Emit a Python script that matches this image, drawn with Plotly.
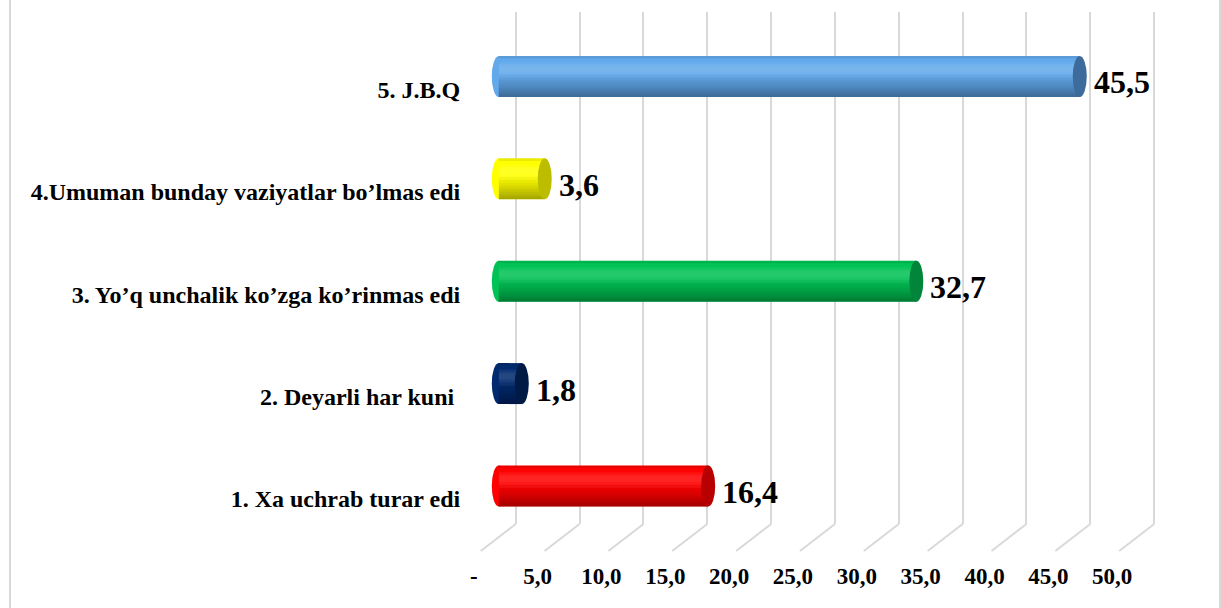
import plotly.graph_objects as go

# ---- data ----
categories = [
    "1. Xa uchrab turar edi",
    "2. Deyarli har kuni ",
    "3. Yo’q unchalik ko’zga ko’rinmas edi",
    "4.Umuman bunday vaziyatlar bo’lmas edi",
    "5. J.B.Q",
]
values = [16.4, 1.8, 32.7, 3.6, 45.5]
tick_values = [0, 5, 10, 15, 20, 25, 30, 35, 40, 45, 50]
tick_labels = ["-", "5,0", "10,0", "15,0", "20,0", "25,0", "30,0", "35,0", "40,0", "45,0", "50,0"]

# ---- style ----
base_colors = ["#FF0000", "#002A6E", "#00C255", "#FFFF00", "#62A9EC"]
cap_colors = ["#B80000", "#001A46", "#00853A", "#BDBD00", "#3D6B9B"]
W, H = 1221, 608
FONT = "Liberation Serif"
GRID = "#D9D9D9"

def px_x(p):
    return p / W

def px_y(p):
    return 1 - p / H

ypos = list(range(len(categories)))
labels_val = [f"{v:.1f}".replace(".", ",") for v in values]

fig = go.Figure()

# empty trace to build the back-wall grid subplot
fig.add_trace(go.Scatter(x=[], y=[], xaxis="x", yaxis="y", showlegend=False, hoverinfo="skip"))

# main cylinders
fig.add_trace(go.Bar(
    x=values, y=ypos, orientation="h", width=0.4,
    marker=dict(color=base_colors, line=dict(width=0)),
    xaxis="x2", yaxis="y2", hoverinfo="skip", showlegend=False,
))
# shading bands to mimic the cylinder look (smooth gradient by stacking)
bands = []
for wd in [0.22, 0.19, 0.16, 0.135, 0.11, 0.09, 0.07, 0.05, 0.035, 0.02]:
    bands.append((-0.2, wd, "rgba(0,0,0,0.04)"))
for off, wd in [(-0.02, 0.16), (0.01, 0.11), (0.04, 0.06)]:
    bands.append((off, wd, "rgba(255,255,255,0.05)"))
bands.append((0.175, 0.025, "rgba(0,0,0,0.08)"))
for off, wd, col in bands:
    fig.add_trace(go.Bar(
        x=values, y=ypos, orientation="h", width=wd, offset=off,
        marker=dict(color=col, line=dict(width=0)),
        xaxis="x2", yaxis="y2", hoverinfo="skip", showlegend=False,
    ))

shapes = []
# floor lines (perspective) of the grid
for v in tick_values:
    shapes.append(dict(
        type="line", xref="x", yref="paper", xsizemode="pixel", xanchor=v,
        x0=0, x1=-35, y0=px_y(524), y1=px_y(551),
        line=dict(color=GRID, width=2), layer="below",
    ))
# cylinder caps
for i, v in enumerate(values):
    shapes.append(dict(
        type="circle", xref="x2", yref="y2", xsizemode="pixel", xanchor=0,
        x0=-7, x1=7, y0=i - 0.2, y1=i + 0.2,
        fillcolor=base_colors[i], line=dict(width=0), layer="between",
    ))
    shapes.append(dict(
        type="circle", xref="x2", yref="y2", xsizemode="pixel", xanchor=v,
        x0=-7, x1=7, y0=i - 0.2, y1=i + 0.2,
        fillcolor=cap_colors[i], line=dict(width=0), layer="above",
    ))
# frame
shapes.append(dict(
    type="rect", xref="paper", yref="paper", x0=px_x(7), x1=px_x(1220),
    y0=-0.05, y1=1.05, line=dict(color=GRID, width=2), fillcolor="rgba(0,0,0,0)",
))

annotations = []
for i, v in enumerate(values):
    annotations.append(dict(
        x=v, y=i, xref="x2", yref="y2", text=labels_val[i], showarrow=False,
        xanchor="left", yanchor="middle", xshift=12, yshift=-6,
        font=dict(family=FONT, size=32, color="black", weight="bold"),
    ))

fig.update_layout(
    width=W, height=H,
    margin=dict(l=0, r=0, t=0, b=0),
    paper_bgcolor="white", plot_bgcolor="rgba(0,0,0,0)",
    barmode="overlay", showlegend=False,
    shapes=shapes, annotations=annotations,
    xaxis=dict(
        domain=[px_x(514 - 4 * 12.8), px_x(514 + 52 * 12.8)], range=[-4, 52],
        anchor="y", tickvals=tick_values, showticklabels=False,
        showgrid=True, gridcolor=GRID, gridwidth=2, zeroline=False,
        showline=False, ticks="", fixedrange=True,
    ),
    yaxis=dict(
        domain=[px_y(524), px_y(12)], range=[0, 1], anchor="x",
        visible=False, showgrid=False, zeroline=False, fixedrange=True,
    ),
    xaxis2=dict(
        domain=[px_x(497 - 2 * 12.8), px_x(497 + 53 * 12.8)], range=[-2, 53],
        anchor="y2", tickvals=tick_values, ticktext=tick_labels,
        showgrid=False, zeroline=False, showline=False, ticks="",
        ticklabelshift=-25, ticklabelstandoff=36,
        tickfont=dict(family=FONT, size=23, color="black", weight="bold"),
        fixedrange=True,
    ),
    yaxis2=dict(
        domain=[px_y(524), px_y(12)],
        range=[(486 - 524) / 102.4, (486 - 12) / 102.4],
        anchor="x2", tickvals=ypos, ticktext=categories,
        showgrid=False, zeroline=False, showline=False, ticks="",
        ticklabelshift=13, ticklabelstandoff=12,
        tickfont=dict(family=FONT, size=24, color="black", weight="bold"),
        fixedrange=True,
    ),
)

fig.write_html(
    "out.html",
    config={"displayModeBar": False},
    post_script="document.body.style.margin='0';document.body.style.overflow='hidden';",
)
